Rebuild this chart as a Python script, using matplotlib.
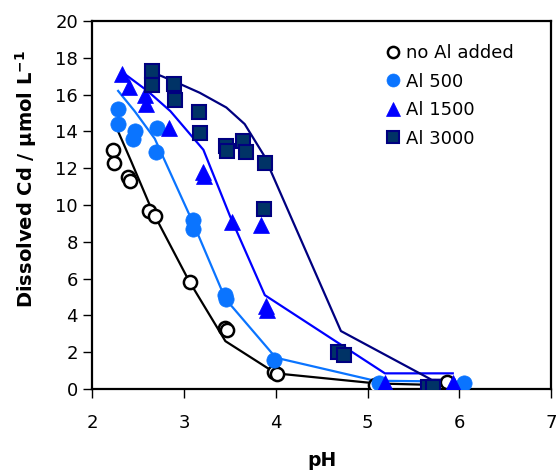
import matplotlib
matplotlib.use("Agg")
import matplotlib.pyplot as plt

plt.rcParams['font.family'] = ['DejaVu Sans']

# Measured dissolved Cd (µmol/L) against pH
no_al_ph = [2.22, 2.24, 2.39, 2.41, 2.62, 2.68, 3.06, 3.45, 3.47, 3.98, 4.01, 5.08, 5.87]
no_al_cd = [13.0, 12.3, 11.5, 11.3, 9.7, 9.4, 5.8, 3.3, 3.2, 0.9, 0.8, 0.2, 0.4]

al500_ph = [2.28, 2.28, 2.46, 2.44, 2.70, 2.69, 3.10, 3.10, 3.45, 3.46, 3.98, 5.12, 6.05]
al500_cd = [15.2, 14.4, 14.0, 13.6, 14.2, 12.9, 9.2, 8.7, 5.1, 4.9, 1.6, 0.3, 0.3]

al1500_ph = [2.32, 2.40, 2.57, 2.58, 2.84, 3.21, 3.22, 3.52, 3.84, 3.89, 3.90, 5.19, 5.93]
al1500_cd = [17.1, 16.4, 16.0, 15.5, 14.2, 11.8, 11.6, 9.1, 8.9, 4.5, 4.3, 0.3, 0.3]

al3000_ph = [2.65, 2.65, 2.89, 2.90, 3.16, 3.17, 3.46, 3.47, 3.64, 3.68, 3.88, 3.87, 4.68, 4.74, 5.66, 5.71]
al3000_cd = [17.3, 16.5, 16.6, 15.7, 15.05, 13.9, 13.2, 12.95, 13.5, 12.9, 12.3, 9.8, 2.0, 1.85, 0.1, 0.1]

# Model curves
fit_no_al_ph = [2.28, 2.42, 2.65, 3.05, 3.45, 4.0, 5.1, 5.9]
fit_no_al_cd = [14.0, 12.4, 9.7, 5.9, 2.6, 0.85, 0.3, 0.2]

fit_al500_ph = [2.28, 2.46, 2.68, 3.10, 3.45, 4.0, 5.08, 6.0]
fit_al500_cd = [16.2, 15.1, 13.6, 9.0, 4.9, 1.7, 0.45, 0.4]

fit_al1500_ph = [2.33, 2.60, 2.85, 3.21, 3.50, 3.88, 5.19, 5.93]
fit_al1500_cd = [17.2, 16.2, 15.1, 13.0, 9.4, 5.1, 0.85, 0.85]

fit_al3000_ph = [2.66, 2.90, 3.17, 3.46, 3.66, 3.87, 4.71, 5.70, 5.95]
fit_al3000_cd = [17.2, 16.7, 16.1, 15.3, 14.4, 12.7, 3.15, 0.5, 0.5]

x_ticks = [2, 3, 4, 5, 6, 7]
y_ticks = [0, 2, 4, 6, 8, 10, 12, 14, 16, 18, 20]

c_light = '#0A74FF'
c_blue = '#0000FF'
c_navy = '#000080'
c_navy_face = '#003366'

fig = plt.figure(figsize=(5.57, 4.73), dpi=100)
ax = fig.add_axes([0.166, 0.1776, 0.823, 0.778])

lw = 1.6
ax.plot(fit_no_al_ph, fit_no_al_cd, color='black', lw=lw, zorder=2)
ax.plot(fit_al500_ph, fit_al500_cd, color=c_light, lw=lw, zorder=2)
ax.plot(fit_al1500_ph, fit_al1500_cd, color=c_blue, lw=lw, zorder=2)
ax.plot(fit_al3000_ph, fit_al3000_cd, color=c_navy, lw=lw, zorder=2)

h1, = ax.plot(no_al_ph, no_al_cd, ls='none', marker='o', ms=9.5, mfc='white',
              mec='black', mew=1.8, zorder=3, label='no Al added')
h2, = ax.plot(al500_ph, al500_cd, ls='none', marker='o', ms=11, mfc=c_light,
              mec=c_light, mew=0.5, zorder=4, label='Al 500')
h3, = ax.plot(al1500_ph, al1500_cd, ls='none', marker='^', ms=11.5, mfc=c_blue,
              mec=c_blue, mew=0.5, zorder=5, label='Al 1500')
h4, = ax.plot(al3000_ph, al3000_cd, ls='none', marker='s', ms=9.5, mfc=c_navy_face,
              mec=c_navy, mew=1.5, zorder=6, label='Al 3000')

ax.set_xlim(2, 7)
ax.set_ylim(0, 20)
ax.set_xticks(x_ticks)
ax.set_yticks(y_ticks)
ax.tick_params(direction='out', length=6.5, width=1.0, labelsize=13)
ax.tick_params(axis='x', pad=11.5)
ax.tick_params(axis='y', pad=4)
for s in ax.spines.values():
    s.set_linewidth(1.6)

ax.set_xlabel('pH', fontsize=13.5, fontweight='bold', labelpad=14)
ax.set_ylabel('Dissolved Cd / µmol L$^{\\mathbf{-1}}$', fontsize=14, fontweight='bold')
ax.yaxis.set_label_coords(-0.117, 0.57)

leg = ax.legend(handles=[h1, h2, h3, h4], loc='upper left',
                bbox_to_anchor=(0.640, 0.937), frameon=False,
                fontsize=13, handlelength=0.8, handletextpad=0.3,
                labelspacing=0.58, borderaxespad=0.0, borderpad=0.0,
                markerscale=0.85)

fig.savefig('out.png', dpi=100)
